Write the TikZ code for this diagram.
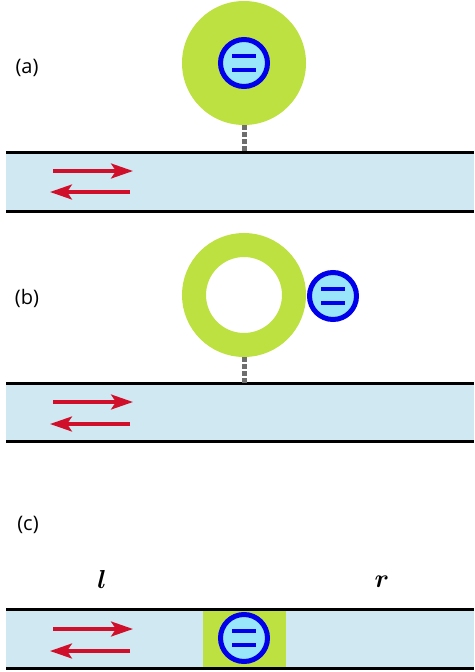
\documentclass[tikz,border=0pt]{standalone}
\usepackage{graphicx}
\usepackage{fontspec}
\setsansfont{Open Sans}
\usetikzlibrary{arrows.meta}
\definecolor{ringgreen}{RGB}{189,225,64}
\definecolor{chanblue}{RGB}{208,232,242}
\definecolor{chargefill}{RGB}{153,230,250}
\definecolor{chargeblue}{RGB}{0,0,235}
\definecolor{flowred}{RGB}{208,16,42}
\definecolor{linkgray}{RGB}{110,110,110}
\tikzset{
  panel/.style={font=\sffamily\fontsize{20}{22}\selectfont, inner sep=0pt},
  sidelabel/.style={inner sep=0pt},
  chargenode/.style={circle, draw=chargeblue, line width=5pt, fill=chargefill,
    minimum size=47pt, inner sep=0pt,
    path picture={
      \draw[chargeblue, line width=4.5pt]
        ([xshift=-12pt,yshift=7pt]path picture bounding box.center) -- ++(24pt,0pt)
        ([xshift=-12pt,yshift=-7pt]path picture bounding box.center) -- ++(24pt,0pt);
    }},
  flow/.style={flowred, line width=3.2pt,
    -{Stealth[length=22pt,width=15pt,inset=5pt]}},
  wall/.style={black, line width=3pt},
  tether/.style={linkgray, line width=5pt, dash pattern=on 5pt off 2pt},
}
\newcommand{\channel}[2]{%
  \fill[chanblue] (6,#1) rectangle (474,#2);
  \draw[wall] (6,#1) -- (474,#1);
  \draw[wall] (6,#2) -- (474,#2);
}
\newcommand{\sidesym}[1]{\scalebox{2.6}{\boldmath$#1$}}
\begin{document}
\begin{tikzpicture}[x=1pt,y=-1pt]
\useasboundingbox (0,0) rectangle (474,672);
\fill[white] (0,0) rectangle (474,672);

% ---------- (a) ----------
\node[panel] (la) at (27,68) {(a)};
\channel{152}{211}
\node[circle, fill=ringgreen, minimum size=124pt, inner sep=0pt] (bigA) at (244,63) {};
\node[chargenode] (qA) at (244,63) {};
\coordinate (wallA) at (244,152);
\draw[tether] (bigA.south) -- (wallA);
\draw[flow] (53,171) -- (133,171);
\draw[flow] (130,192) -- (50,192);

% ---------- (b) ----------
\node[panel] (lb) at (27,298) {(b)};
\channel{383}{441}
\node[circle, draw=ringgreen, line width=24pt, minimum size=100pt, inner sep=0pt] (ringB) at (244,295) {};
\node[chargenode] (qB) at (333,296) {};
\coordinate (wallB) at (244,383);
\draw[tether] (244,357) -- (wallB);
\draw[flow] (53,402) -- (133,402);
\draw[flow] (130,424) -- (50,424);

% ---------- (c) ----------
\node[panel] (lc) at (28,525) {(c)};
\node[sidelabel] (ll) at (102,579) {\sidesym{l}};
\node[sidelabel] (lr) at (382,582) {\sidesym{r}};
\channel{609}{668}
\fill[ringgreen] (203,610.5) rectangle (286,666.5);
\node[chargenode] (qC) at (244,638) {};
\draw[flow] (53,629) -- (133,629);
\draw[flow] (130,651) -- (50,651);
\end{tikzpicture}
\end{document}
